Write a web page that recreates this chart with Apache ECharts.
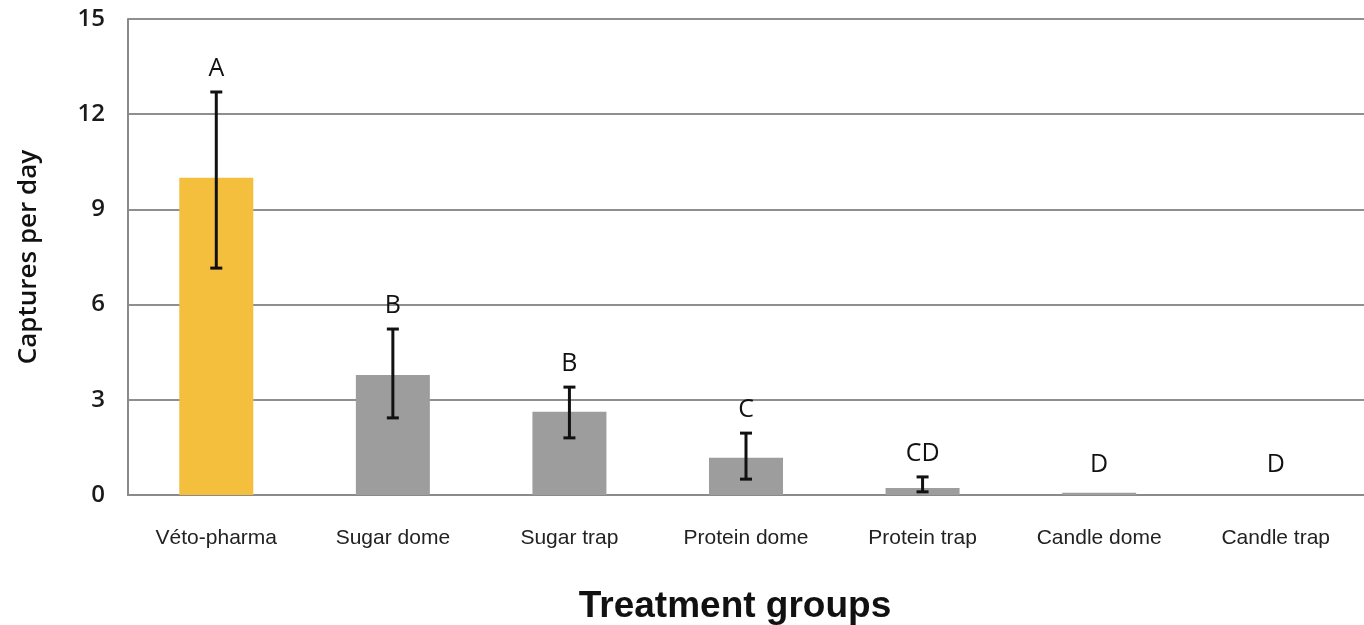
<!DOCTYPE html>
<html>
<head>
<meta charset="utf-8">
<script src="https://cdn.jsdelivr.net/npm/echarts@6/dist/echarts.min.js"></script>
<style>
html,body{margin:0;padding:0;background:#fff;}
#chart{width:1364px;height:625px;}
</style>
</head>
<body>
<div id="chart"></div>
<script>
const categories = ['Véto-pharma','Sugar dome','Sugar trap','Protein dome','Protein trap','Candle dome','Candle trap'];
const means = [10.0, 3.78, 2.62, 1.17, 0.22, 0.07, 0];
const errLow = [7.15, 2.43, 1.80, 0.50, 0.10, null, null];
const errHigh = [12.7, 5.23, 3.40, 1.95, 0.57, null, null];
const letters = ['A','B','B','C','CD','D','D'];
const yTicks = [0, 3, 6, 9, 12, 15];

const chart = echarts.init(document.getElementById('chart'));
const errData = categories.map((c, i) => [i, errLow[i], errHigh[i], means[i]]);

chart.setOption({
  animation: false,
  backgroundColor: '#fff',
  title: {
    text: 'Treatment groups',
    left: 730, top: 583,
    textAlign: 'center',
    textStyle: {fontFamily: 'Liberation Sans, Arial', fontWeight: 'bold', fontSize: 37, color: '#111'}
  },
  grid: {left: 128, top: 19, width: 1246, height: 476},
  xAxis: {
    type: 'category',
    data: categories,
    axisLine: {show: true, lineStyle: {color: '#8a8a8a', width: 2}},
    axisTick: {show: false},
    axisLabel: {margin: 33, fontFamily: 'Liberation Sans, Arial', fontSize: 21, color: '#222'}
  },
  yAxis: {
    type: 'value',
    min: yTicks[0], max: yTicks[yTicks.length - 1], interval: 3,
    name: 'Captures per day',
    nameLocation: 'middle',
    nameGap: 86,
    nameTextStyle: {fontFamily: 'Open Sans, Noto Sans', fontWeight: 600, fontSize: 26, color: '#111'},
    axisLine: {show: true, lineStyle: {color: '#8a8a8a', width: 2}},
    axisTick: {show: false},
    axisLabel: {margin: 23, fontFamily: 'Open Sans, Noto Sans', fontWeight: 600, fontSize: 24, color: '#1a1a1a'},
    splitLine: {show: true, lineStyle: {color: '#8f8f8f', width: 2}}
  },
  series: [
    {
      type: 'bar',
      barWidth: 74,
      data: means.map((v, i) => ({value: v, itemStyle: {color: i === 0 ? '#F3BF3D' : '#9d9d9d'}})),
      z: 2
    },
    {
      type: 'custom',
      z: 5,
      data: errData,
      renderItem: function (params, api) {
        const i = api.value(0);
        const lo = errLow[i], hi = errHigh[i];
        const children = [];
        const zeroPt = api.coord([i, 0]);
        let topPx = api.coord([i, means[i]])[1];
        if (lo != null && hi != null) {
          const pLo = api.coord([i, lo]);
          const pHi = api.coord([i, hi]);
          topPx = pHi[1];
          const x = pLo[0];
          const cap = 6;
          const ls = {stroke: '#111', lineWidth: 3};
          children.push({type: 'line', shape: {x1: x, y1: pLo[1], x2: x, y2: pHi[1]}, style: ls});
          children.push({type: 'line', shape: {x1: x - cap, y1: pLo[1], x2: x + cap, y2: pLo[1]}, style: ls});
          children.push({type: 'line', shape: {x1: x - cap, y1: pHi[1], x2: x + cap, y2: pHi[1]}, style: ls});
        }
        const ly = Math.min(topPx - 23, zeroPt[1] - 30);
        children.push({
          type: 'text',
          style: {
            text: letters[i], x: zeroPt[0], y: ly,
            align: 'center', verticalAlign: 'middle',
            fontFamily: 'Open Sans, Noto Sans', fontSize: 25, fill: '#111'
          }
        });
        return {type: 'group', children: children};
      }
    }
  ]
});
</script>
</body>
</html>
